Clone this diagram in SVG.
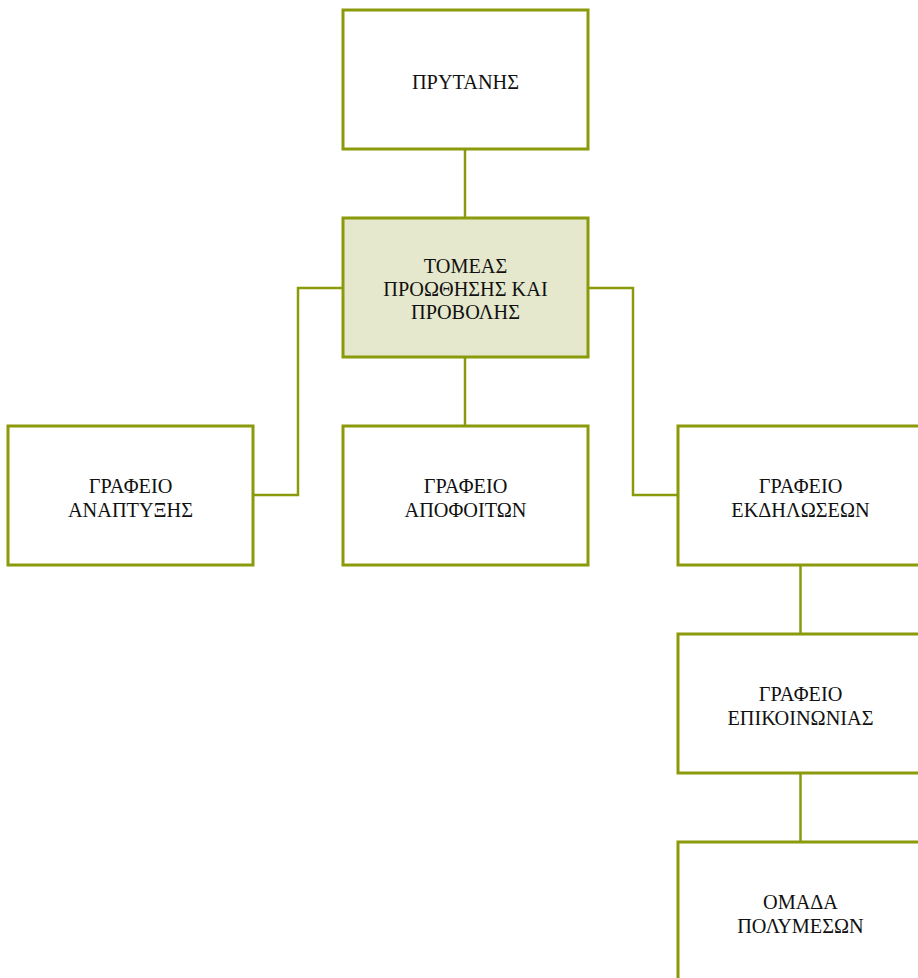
<svg xmlns="http://www.w3.org/2000/svg" width="918" height="978" viewBox="0 0 918 978">
<style>
.box{fill:#ffffff;stroke:#8a9a0b;stroke-width:3}
.hl{fill:#e5e8cc}
.t{font-family:"Liberation Serif","Times New Roman",serif;font-size:20.3px;fill:#111;text-anchor:middle}
.c{fill:none;stroke:#8a9a0b;stroke-width:2.5}
</style>
<rect width="918" height="978" fill="#ffffff"/>
<g id="connectors">
<path class="c" d="M465 149V218"/>
<path class="c" d="M465 357V426"/>
<path class="c" d="M343 288H298V495H253"/>
<path class="c" d="M588 288H633V495H678"/>
<path class="c" d="M800.5 565V634"/>
<path class="c" d="M800.5 773V842"/>
</g>
<g id="n1"><rect class="box" x="343" y="10" width="245" height="139"/><text class="t" x="465.5" y="89">ΠΡΥΤΑΝΗΣ</text></g>
<g id="n2"><rect class="box hl" x="343" y="218" width="245" height="139"/><text class="t" x="465.5" y="273">ΤΟΜΕΑΣ</text><text class="t" x="465.5" y="296">ΠΡΟΩΘΗΣΗΣ ΚΑΙ</text><text class="t" x="465.5" y="319">ΠΡΟΒΟΛΗΣ</text></g>
<g id="n3"><rect class="box" x="8" y="426" width="245" height="139"/><text class="t" x="130.5" y="493">ΓΡΑΦΕΙΟ</text><text class="t" x="130.5" y="517">ΑΝΑΠΤΥΞΗΣ</text></g>
<g id="n4"><rect class="box" x="343" y="426" width="245" height="139"/><text class="t" x="465.5" y="493">ΓΡΑΦΕΙΟ</text><text class="t" x="465.5" y="517">ΑΠΟΦΟΙΤΩΝ</text></g>
<g id="n5"><rect class="box" x="678" y="426" width="245" height="139"/><text class="t" x="800.5" y="493">ΓΡΑΦΕΙΟ</text><text class="t" x="800.5" y="517">ΕΚΔΗΛΩΣΕΩΝ</text></g>
<g id="n6"><rect class="box" x="678" y="634" width="245" height="139"/><text class="t" x="800.5" y="701">ΓΡΑΦΕΙΟ</text><text class="t" x="800.5" y="725">ΕΠΙΚΟΙΝΩΝΙΑΣ</text></g>
<g id="n7"><rect class="box" x="678" y="842" width="245" height="139"/><text class="t" x="800.5" y="909">ΟΜΑΔΑ</text><text class="t" x="800.5" y="933">ΠΟΛΥΜΕΣΩΝ</text></g>
</svg>
